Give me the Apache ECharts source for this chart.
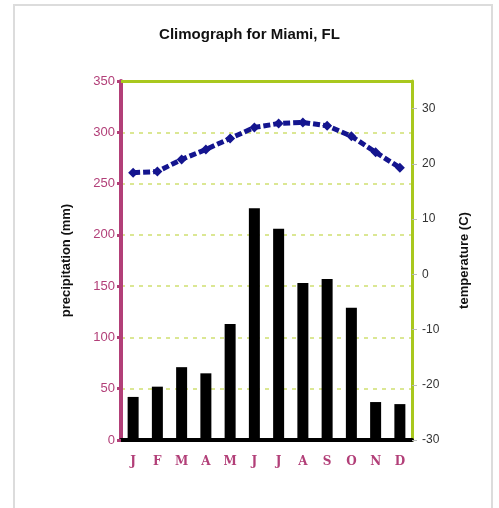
<!DOCTYPE html>
<html>
<head>
<meta charset="utf-8">
<script src="https://cdn.jsdelivr.net/npm/echarts@6/dist/echarts.min.js"></script>
<style>
  html, body { margin: 0; padding: 0; background: #fff; }
  #chart { width: 499px; height: 508px; }
</style>
</head>
<body>
<div id="chart"></div>
<script>
// 数据
const months = ['J', 'F', 'M', 'A', 'M', 'J', 'J', 'A', 'S', 'O', 'N', 'D']
const precipitation = [42, 52, 71, 65, 113, 226, 206, 153, 157, 129, 37, 35]
const temperature = [18.4, 18.6, 20.8, 22.6, 24.6, 26.6, 27.3, 27.5, 26.9, 25.0, 22.1, 19.3]

const magenta = '#b23f78'
const green = '#a9c81e'

const chart = echarts.init(document.getElementById('chart'))

const option = {
  animation: false,
  title: {
    text: 'Climograph for Miami, FL',
    left: 'center',
    top: 22,
    textStyle: { fontFamily: 'Liberation Sans', fontSize: 15, fontWeight: 'bold', color: '#111' }
  },
  // 外框
  graphic: [{
    type: 'rect',
    shape: { x: 14, y: 5, width: 478, height: 520 },
    style: { fill: 'none', stroke: '#dcdcdc', lineWidth: 2 },
    silent: true
  }],
  grid: { left: 121, right: 87, top: 81, bottom: 68 },
  xAxis: [{
    type: 'category',
    data: months,
    position: 'bottom',
    axisLine: { onZero: false, lineStyle: { color: '#000', width: 4 } },
    axisTick: { show: false },
    axisLabel: {
      color: magenta, fontFamily: 'DejaVu Serif', fontWeight: 'bold', fontSize: 12, margin: 16
    }
  }, {
    type: 'category',
    data: months,
    position: 'top',
    axisLine: { onZero: false, lineStyle: { color: green, width: 3 } },
    axisTick: { show: false },
    axisLabel: { show: false }
  }],
  yAxis: [{
    type: 'value',
    min: 0,
    max: 350,
    interval: 50,
    name: 'precipitation (mm)',
    nameLocation: 'middle',
    nameGap: 48,
    nameTextStyle: { fontFamily: 'Liberation Sans', fontSize: 13, fontWeight: 'bold', color: '#111' },
    axisLine: { show: true, lineStyle: { color: magenta, width: 4 } },
    axisTick: { show: true, length: 4, lineStyle: { color: magenta, width: 3 } },
    axisLabel: { color: magenta, fontFamily: 'Liberation Sans', fontSize: 13, margin: 6 },
    splitLine: { lineStyle: { color: '#cfe070', width: 1.5, type: [4, 5] } }
  }, {
    type: 'value',
    min: -30,
    max: 35,
    interval: 10,
    position: 'right',
    name: 'temperature (C)',
    nameLocation: 'middle',
    nameGap: 46,
    nameTextStyle: { fontFamily: 'Liberation Sans', fontSize: 13, fontWeight: 'bold', color: '#111' },
    axisLine: { show: true, lineStyle: { color: green, width: 3 } },
    axisTick: { show: true, length: 5, lineStyle: { color: '#bbb', width: 1 } },
    axisLabel: { color: '#333', fontFamily: 'Liberation Sans', fontSize: 12, margin: 10, showMaxLabel: false },
    splitLine: { show: false }
  }],
  series: [{
    type: 'bar',
    data: precipitation,
    barWidth: 11,
    itemStyle: { color: '#000' }
  }, {
    type: 'line',
    yAxisIndex: 1,
    data: temperature,
    symbol: 'diamond',
    symbolSize: 10,
    itemStyle: { color: '#14158f' },
    lineStyle: { color: '#14158f', width: 5, type: [7, 3] }
  }]
}

chart.setOption(option)
</script>
</body>
</html>
